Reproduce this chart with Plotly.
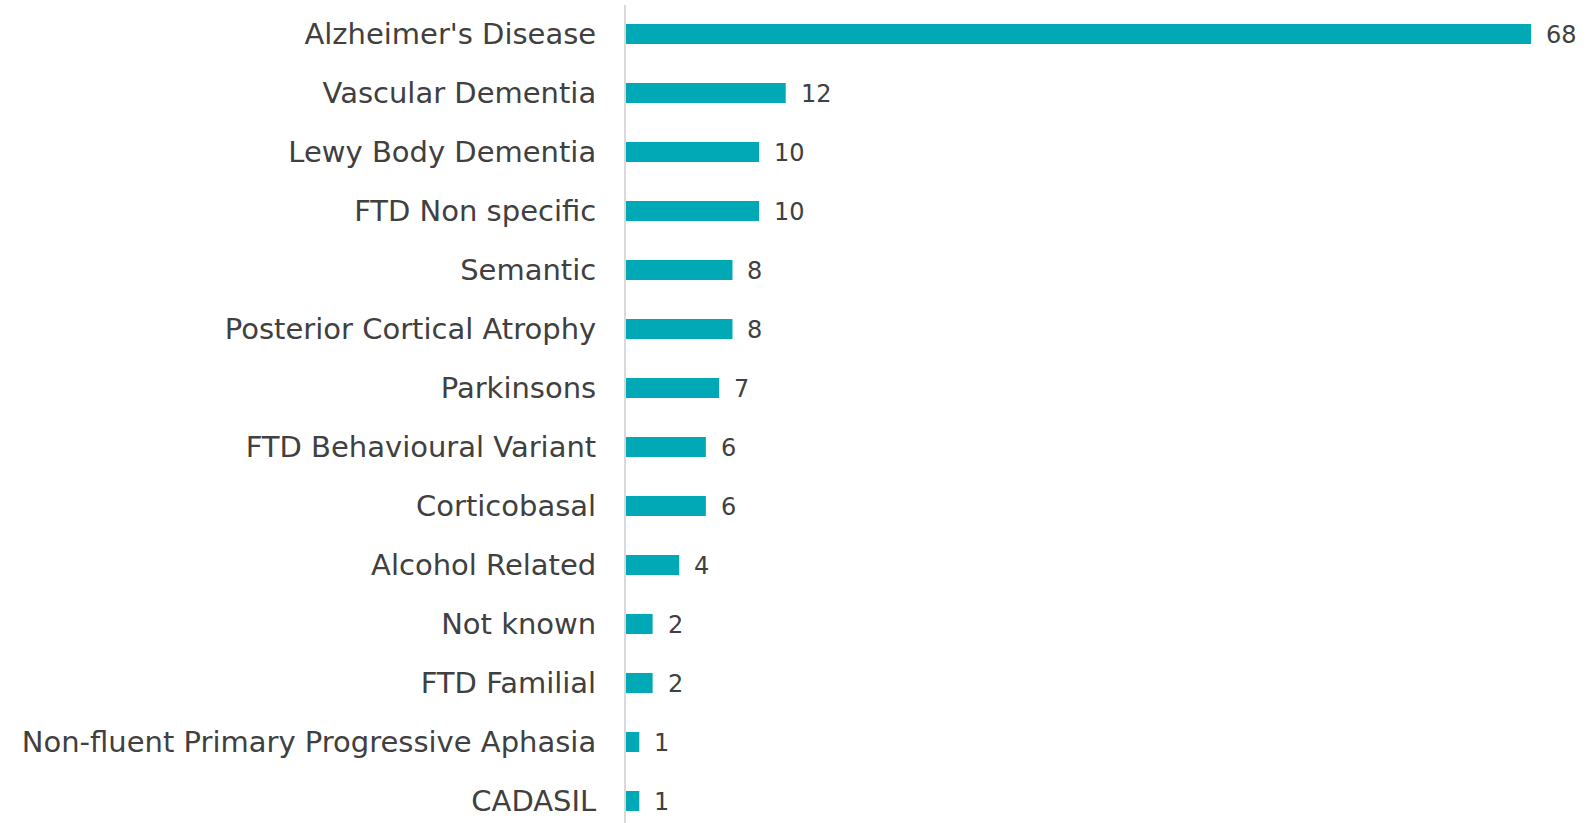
import plotly.graph_objects as go

categories = ["Alzheimer's Disease", "Vascular Dementia", "Lewy Body Dementia", "FTD Non specific",
              "Semantic", "Posterior Cortical Atrophy", "Parkinsons", "FTD Behavioural Variant",
              "Corticobasal", "Alcohol Related", "Not known", "FTD Familial",
              "Non-fluent Primary Progressive Aphasia", "CADASIL"]
values = [68, 12, 10, 10, 8, 8, 7, 6, 6, 4, 2, 2, 1, 1]

BAR = "#00A9B5"
TXT = "#404040"
FONT = "Verdana, DejaVu Sans, sans-serif"

fig = go.Figure(go.Bar(
    x=values, y=categories, orientation="h",
    marker=dict(color=BAR, line=dict(width=0)),
    width=0.34,
))

for c, v in zip(categories, values):
    fig.add_annotation(x=v, y=c, text=str(v), showarrow=False, xanchor="left",
                       xshift=13, yshift=-1, font=dict(size=24, color=TXT, family=FONT))

fig.update_layout(
    width=1587, height=823,
    margin=dict(l=626, r=0, t=5, b=0),
    paper_bgcolor="white", plot_bgcolor="white",
    showlegend=False,
    font=dict(family=FONT, color=TXT),
    xaxis=dict(range=[0, 72.2], visible=False, showgrid=False, zeroline=False),
    yaxis=dict(type="category", range=[13.373, -0.4915], showgrid=False, zeroline=False,
               showline=True, linecolor="#d9d9d9", linewidth=2,
               ticks="", ticklabelstandoff=22,
               tickfont=dict(size=29, color=TXT, family=FONT)),
)

fig.write_html("out.html")
